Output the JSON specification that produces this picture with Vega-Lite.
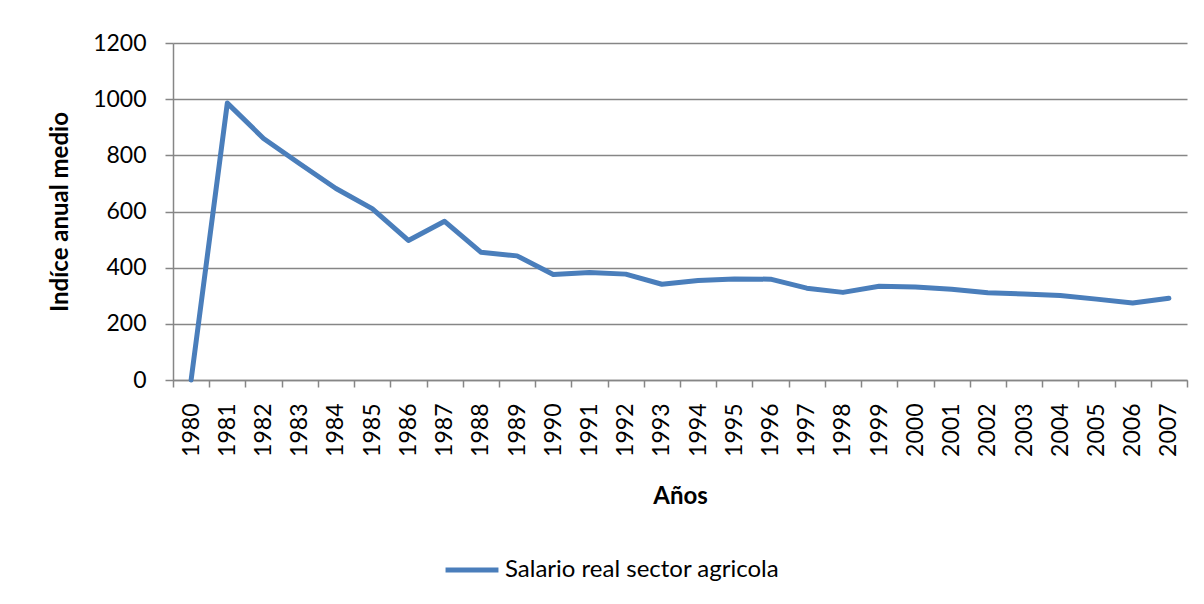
{
  "$schema": "https://vega.github.io/schema/vega-lite/v6.json",
  "autosize": {"type": "none"},
  "width": 1014,
  "height": 337,
  "padding": {"left": 173, "top": 43, "right": 17, "bottom": 224},
  "background": "white",
  "config": {
    "view": {"stroke": null},
    "font": "Lato",
    "axis": {"labelFont": "Lato", "titleFont": "Lato", "labelColor": "black", "titleColor": "black"}
  },
  "data": {
    "values": [
      {"year": "1980", "value": 0, "serie": "Salario real sector agricola"},
      {"year": "1981", "value": 986, "serie": "Salario real sector agricola"},
      {"year": "1982", "value": 860, "serie": "Salario real sector agricola"},
      {"year": "1983", "value": 770, "serie": "Salario real sector agricola"},
      {"year": "1984", "value": 682, "serie": "Salario real sector agricola"},
      {"year": "1985", "value": 610, "serie": "Salario real sector agricola"},
      {"year": "1986", "value": 497, "serie": "Salario real sector agricola"},
      {"year": "1987", "value": 565, "serie": "Salario real sector agricola"},
      {"year": "1988", "value": 455, "serie": "Salario real sector agricola"},
      {"year": "1989", "value": 442, "serie": "Salario real sector agricola"},
      {"year": "1990", "value": 376, "serie": "Salario real sector agricola"},
      {"year": "1991", "value": 383, "serie": "Salario real sector agricola"},
      {"year": "1992", "value": 377, "serie": "Salario real sector agricola"},
      {"year": "1993", "value": 341, "serie": "Salario real sector agricola"},
      {"year": "1994", "value": 354, "serie": "Salario real sector agricola"},
      {"year": "1995", "value": 360, "serie": "Salario real sector agricola"},
      {"year": "1996", "value": 359, "serie": "Salario real sector agricola"},
      {"year": "1997", "value": 327, "serie": "Salario real sector agricola"},
      {"year": "1998", "value": 312, "serie": "Salario real sector agricola"},
      {"year": "1999", "value": 334, "serie": "Salario real sector agricola"},
      {"year": "2000", "value": 331, "serie": "Salario real sector agricola"},
      {"year": "2001", "value": 323, "serie": "Salario real sector agricola"},
      {"year": "2002", "value": 311, "serie": "Salario real sector agricola"},
      {"year": "2003", "value": 306, "serie": "Salario real sector agricola"},
      {"year": "2004", "value": 301, "serie": "Salario real sector agricola"},
      {"year": "2005", "value": 288, "serie": "Salario real sector agricola"},
      {"year": "2006", "value": 274, "serie": "Salario real sector agricola"},
      {"year": "2007", "value": 291, "serie": "Salario real sector agricola"}
    ]
  },
  "mark": {"type": "line", "strokeWidth": 5, "strokeCap": "round", "strokeJoin": "round"},
  "encoding": {
    "x": {
      "field": "year",
      "type": "ordinal",
      "scale": {"type": "band", "paddingInner": 0, "paddingOuter": 0},
      "axis": {
        "title": "Años",
        "titleFontSize": 24,
        "titleFontWeight": "bold",
        "titleY": 116,
        "titleBaseline": "middle",
        "labelAngle": 270,
        "labelAlign": "right",
        "labelBaseline": "middle",
        "labelFontSize": 23,
        "labelPadding": 16,
        "tickBand": "extent",
        "tickSize": 7,
        "tickColor": "#868686",
        "tickWidth": 1.5,
        "domainColor": "#868686",
        "domainWidth": 1.5,
        "grid": false
      }
    },
    "y": {
      "field": "value",
      "type": "quantitative",
      "scale": {"domain": [0, 1200], "nice": false},
      "axis": {
        "title": "Indíce anual medio",
        "titleFontSize": 24,
        "titleFontWeight": "bold",
        "titleX": -113,
        "titleBaseline": "middle",
        "values": [0, 200, 400, 600, 800, 1000, 1200],
        "format": "d",
        "labelFontSize": 23,
        "labelPadding": 19,
        "tickSize": 8,
        "tickColor": "#868686",
        "tickWidth": 1.5,
        "domainColor": "#868686",
        "domainWidth": 1.5,
        "grid": true,
        "gridColor": "#868686",
        "gridWidth": 1.5
      }
    },
    "color": {
      "field": "serie",
      "type": "nominal",
      "scale": {"range": ["#4A7EBB"]},
      "legend": {
        "title": null,
        "orient": "none",
        "legendX": 270,
        "legendY": 498,
        "symbolType": "stroke",
        "symbolStrokeWidth": 5,
        "symbolSize": 2800,
        "labelFontSize": 24,
        "labelFont": "Lato",
        "labelColor": "black",
        "labelLimit": 0,
        "labelOffset": 4
      }
    }
  }
}
